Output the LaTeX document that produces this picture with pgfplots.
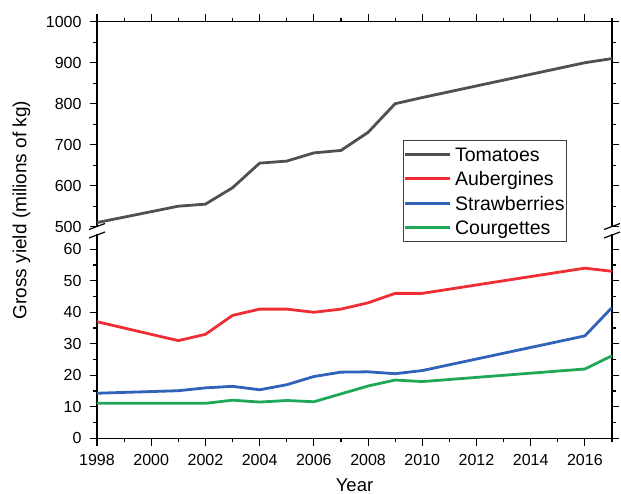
\documentclass[border=0pt]{standalone}
\usepackage{pgfplots}
\pgfplotsset{compat=1.18}
\usepackage{fontspec}
\setmainfont{Liberation Sans}

\definecolor{tomato}{RGB}{80,80,80}
\definecolor{auber}{RGB}{240,45,52}
\definecolor{straw}{RGB}{48,98,186}
\definecolor{courg}{RGB}{32,168,88}

\pgfplotsset{
  panel/.style={
    scale only axis, width=515bp,
    xmin=1998, xmax=2017,
    xtick={1998,2000,...,2016},
    minor xtick={1999,2001,...,2017},
    tick align=outside,
    major tick length=7.5bp, minor tick length=4bp,
    every tick/.style={black, line width=1.1bp},
    separate axis lines,
    axis line style={line width=1.3bp},
    x axis line style={draw=none},
    tick label style={font=\fontsize{16bp}{18bp}\selectfont},
    xticklabel style={yshift=-5bp},
    yticklabel style={xshift=-4.5bp},
    /pgf/number format/assume math mode=true,
    /pgf/number format/1000 sep={},
    ytick pos=both,
    yticklabel pos=left,
  },
  series/.style={line width=2.8bp, line join=round},
}

\begin{document}
\begin{tikzpicture}
\useasboundingbox (-97bp,-55.7bp) rectangle (524bp,438.3bp);

% lower panel: the three smaller crops
\begin{axis}[panel,
  at={(0bp,0bp)}, anchor=south west, height=204.8bp,
  xtick pos=lower,
  ymin=0, ymax=65,
  ytick={0,10,...,60},
  minor ytick={5,15,...,55},
  extra description/.code={
    \draw[line width=1.3bp, line cap=rect] (rel axis cs:0,0) -- (rel axis cs:1,0);},
]
\addplot[series, auber] coordinates {
  (1998,37) (2001,31) (2002,33) (2003,39) (2004,41) (2005,41) (2006,40)
  (2007,41) (2008,43) (2009,46) (2010,46) (2016,54) (2017,53)};
\addplot[series, straw] coordinates {
  (1998,14.3) (2001,15.1) (2002,16) (2003,16.5) (2004,15.4) (2005,17)
  (2006,19.6) (2007,21) (2008,21.1) (2009,20.5) (2010,21.5) (2016,32.5) (2017,41.5)};
\addplot[series, courg] coordinates {
  (1998,11.1) (2001,11.1) (2002,11.1) (2003,12.1) (2004,11.5) (2005,12)
  (2006,11.6) (2007,14.1) (2008,16.6) (2009,18.5) (2010,18) (2016,22) (2017,26.2)};
\end{axis}

% upper panel: tomatoes
\begin{axis}[panel,
  at={(0bp,211.6bp)}, anchor=south west, height=205bp,
  xtick pos=upper, xticklabels={},
  ymin=500, ymax=1000,
  ytick={500,600,...,1000},
  minor ytick={550,650,...,950},
  extra description/.code={
    \draw[line width=1.3bp, line cap=rect] (rel axis cs:0,1) -- (rel axis cs:1,1);},
  legend image code/.code={\draw[#1] (0bp,0bp) -- (45bp,0bp);},
  legend cell align=left,
  legend style={at={(0.594,0.423)}, anchor=north west,
    draw=black!75, line width=0.8bp, fill=white,
    inner xsep=0bp, inner ysep=1.5bp,
    column sep=2bp,
    font=\fontsize{19.5bp}{23bp}\selectfont,
    nodes={inner xsep=2bp, inner ysep=0bp, text height=19.5bp, text depth=5bp}},
]
\addplot[series, tomato] coordinates {
  (1998,510) (2001,550) (2002,555) (2003,595) (2004,655) (2005,660) (2006,680)
  (2007,686) (2008,730) (2009,800) (2010,815) (2016,900) (2017,910)};
\addlegendentry{Tomatoes}
\addlegendimage{series, auber}
\addlegendentry{Aubergines}
\addlegendimage{series, straw}
\addlegendentry{Strawberries}
\addlegendimage{series, courg}
\addlegendentry{Courgettes}
\end{axis}

% axis break marks
\foreach \x in {0bp,515bp} {
  \draw[line width=1.2bp] ([xshift=-8bp]\x,208.8bp) -- ([xshift=8bp]\x,214.8bp);
  \draw[line width=1.2bp] ([xshift=-8bp]\x,200.3bp) -- ([xshift=8bp]\x,206.3bp);
}

\node[rotate=90, font=\fontsize{19bp}{22bp}\selectfont] at (-75.5bp,228.3bp)
  {Gross yield (milions of kg)};
\node[anchor=base, font=\fontsize{18.5bp}{22bp}\selectfont] at (257.5bp,-53.3bp) {Year};
\end{tikzpicture}
\end{document}
